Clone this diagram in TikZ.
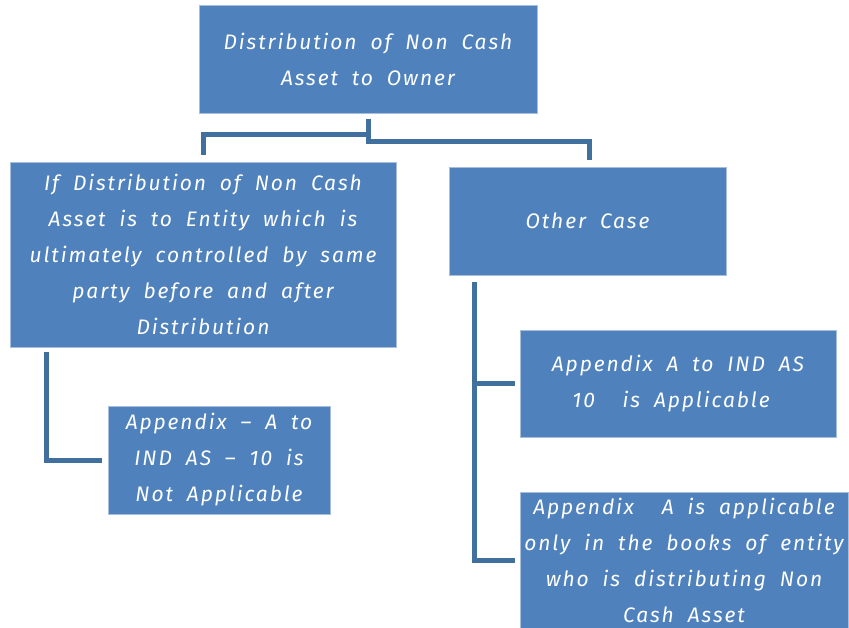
\documentclass[tikz,border=0pt]{standalone}
\usepackage{fontspec}
\setmainfont{Fira Sans}[ItalicFont={Fira Sans Italic},LetterSpace=9,WordSpace=1.9]
\begin{document}
\begin{tikzpicture}[x=1pt,y=-1pt,
  box/.style={line width=0.6pt, fill=boxblue, text=white,
    inner sep=0pt, minimum width=#1, align=center,
    font=\fontsize{21}{36}\selectfont\itshape},
  conn/.style={draw=lineblue, line width=5pt}]
\definecolor{boxblue}{HTML}{4F81BD}
\definecolor{lineblue}{HTML}{41709F}
\definecolor{edgeblue}{HTML}{A7BEDD}
\tikzset{box/.append style={draw=edgeblue}}
\useasboundingbox (0,0) rectangle (849,628);
\node[box=338, minimum height=108] (top) at (368,59) {Distribution of Non Cash\\Asset to Owner};
\node[box=386, minimum height=185] (left) at (203,254.5) {If Distribution of Non Cash\\Asset is to Entity which is\\ultimately controlled by same\\party before and after\\Distribution};
\node[box=277, minimum height=108] (other) at (587.5,221) {Other Case};
\node[box=222, minimum height=108] (na) at (219,460) {Appendix -- A to\\IND AS -- 10 is\\Not Applicable};
\node[box=316, minimum height=107] (app) at (678,383.5) {Appendix A to IND AS\\10\ \ is Applicable\ \ };
\node[box=328, minimum height=136] (bot) at (684,560) {Appendix\ \ A is applicable\\only in the books of entity\\who is distributing Non\\Cash Asset};
\coordinate (t0) at ([yshift=-6pt]top.south);
\coordinate (tl) at (203,135);
\coordinate (tr) at (589,142);
\draw[conn] (t0) |- (tl) -- ([yshift=7pt]left.north -| tl);
\draw[conn] (t0 |- tl) |- (tr) -- ([yshift=7pt]other.north -| tr);
\coordinate (l0) at (46,352);
\draw[conn] (l0) |- ([xshift=-6pt]na.west);
\coordinate (r0) at (474,282);
\draw[conn] (r0) |- ([xshift=-5pt]app.west);
\draw[conn] (r0) |- ([xshift=-5pt]bot.west);
\end{tikzpicture}
\end{document}
